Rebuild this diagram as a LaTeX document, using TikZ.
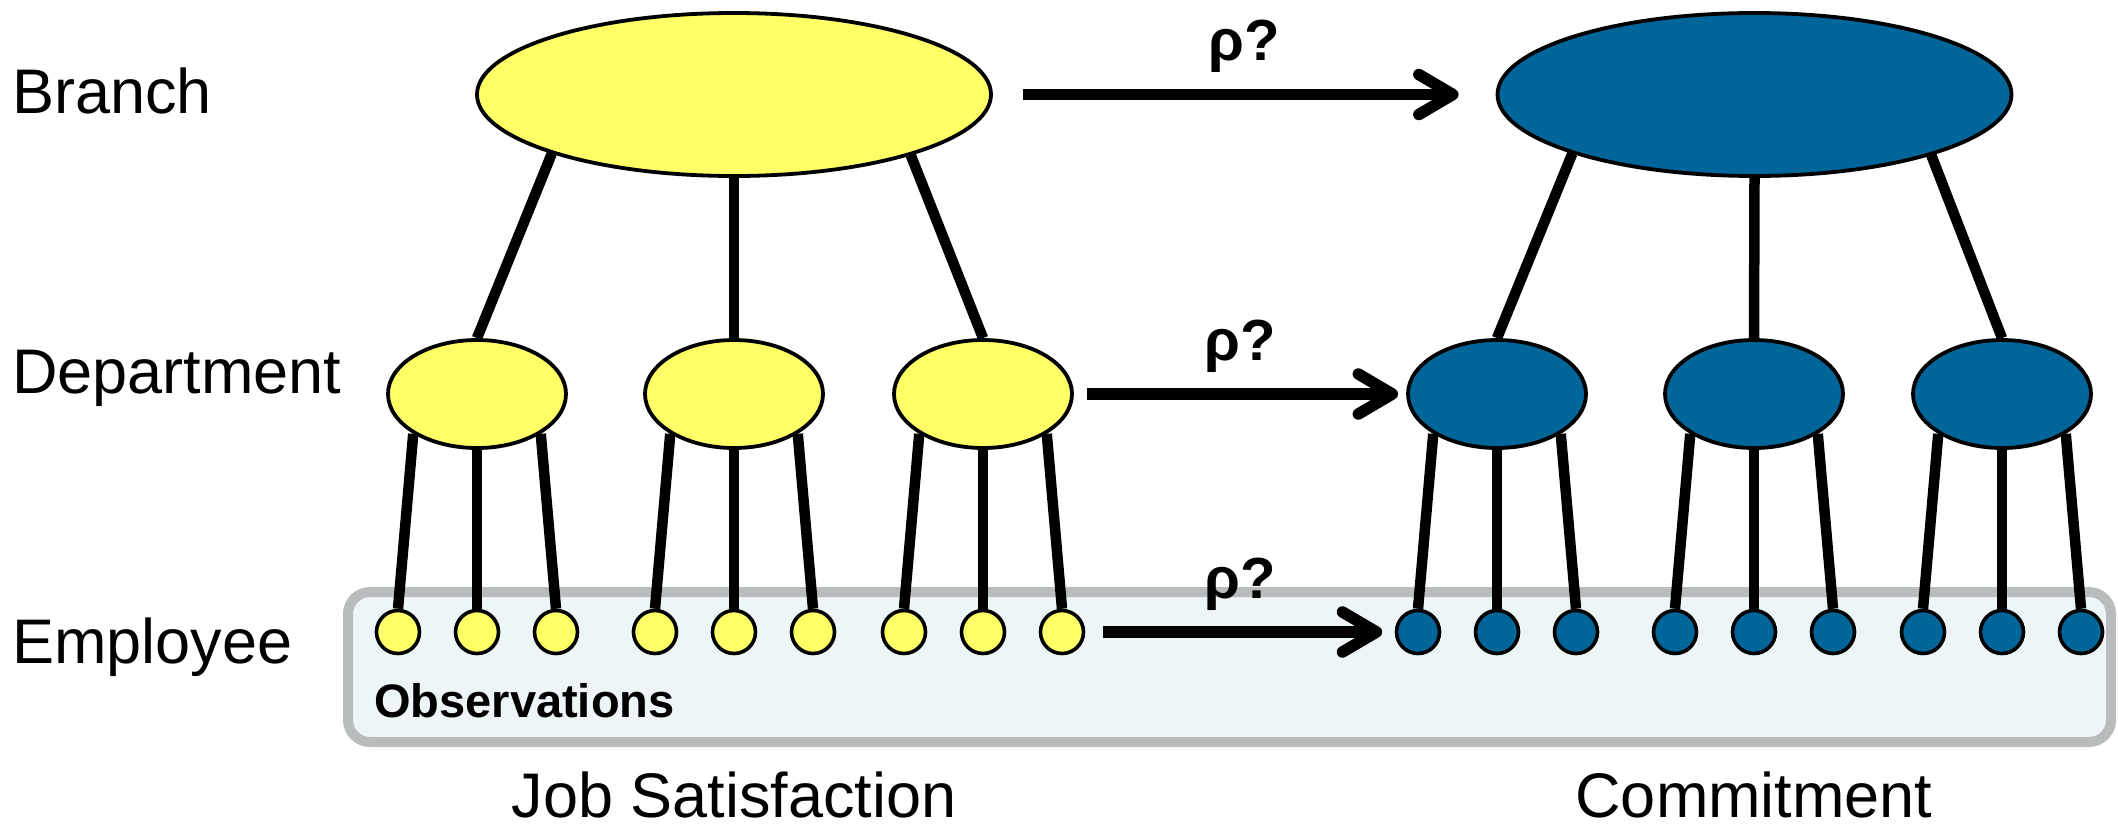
\documentclass[tikz,border=0pt]{standalone}
\usepackage{fontspec}
\setmainfont{Liberation Sans}
\usetikzlibrary{shapes.geometric,arrows.meta}
\definecolor{jsyellow}{RGB}{255,255,102}
\definecolor{cmblue}{RGB}{0,102,153}
\definecolor{obsfill}{RGB}{237,245,247}
\definecolor{obsedge}{RGB}{184,188,189}
\pgfdeclarelayer{bg}
\pgfsetlayers{bg,main}
\begin{document}
\begin{tikzpicture}[x=1pt,y=-1pt,
  bignode/.style={ellipse,draw=black,line width=3.8pt,minimum width=514pt,minimum height=163pt,inner sep=0pt},
  midnode/.style={ellipse,draw=black,line width=3.8pt,minimum width=178pt,minimum height=108pt,inner sep=0pt},
  obsnode/.style={circle,draw=black,line width=3.6pt,minimum size=43pt,inner sep=0pt},
  obsbox/.style={rectangle,rounded corners=22pt,draw=obsedge,fill=obsfill,line width=10pt,
    minimum width=1763pt,minimum height=150pt,inner sep=0pt},
  link/.style={line width=10.5pt},
  corr/.style={line width=11.5pt,-{Straight Barb[length=34pt,width=40pt,round]}},
  rholab/.style={font=\bfseries\fontsize{58}{58}\selectfont,anchor=base,inner sep=0pt,yshift=34pt},
  lvl/.style={font=\fontsize{63}{63}\selectfont,anchor=base west,inner sep=0pt},
  varlab/.style={font=\fontsize{63}{63}\selectfont,anchor=base,inner sep=0pt}]
\useasboundingbox (0,0) rectangle (2118,825);

% level labels
\node[lvl] (lbranch) at (12,113) {Branch};
\node[lvl] (ldept) at (12,393) {Department};
\node[lvl] (lemp) at (12,663) {Employee};

% branch level
\node[bignode,fill=jsyellow] (Y) at (734,94.5) {};
\node[bignode,fill=cmblue] (B) at (1754.5,94.5) {};

% departments and their employees
\foreach \s/\c/\xa/\xb/\xc in {Y/jsyellow/477/734/983, B/cmblue/1497/1754/2002} {
  \foreach \x [count=\i] in {\xa,\xb,\xc} {
    \node[midnode,fill=\c] (\s d\i) at (\x,394) {};
    \foreach \o [count=\j] in {-79,0,79}
      \node[obsnode,fill=\c] (\s e\i\j) at (\x+\o,632) {};
  }
}

% observation panel and tree links underneath the nodes
\begin{pgfonlayer}{bg}
  \node[obsbox] (obs) at (1229.5,667) {};
  \foreach \s in {Y,B} {
    \draw[link] (\s.198.6) -- (\s d1.north);
    \draw[link] (\s.south) -- (\s d2.north);
    \draw[link] (\s.341.4) -- (\s d3.north);
    \foreach \i in {1,2,3} {
      \draw[link] (\s d\i.212) -- (\s e\i1.north);
      \draw[link] (\s d\i.south) -- (\s e\i2.north);
      \draw[link] (\s d\i.328) -- (\s e\i3.north);
    }
  }
\end{pgfonlayer}

\node[font=\bfseries\fontsize{47}{47}\selectfont,anchor=base west,inner sep=0pt] (obslab) at (374,717) {Observations};

% correlation arrows between the two variables
\draw[corr,shorten <=30pt,shorten >=37pt] (Y.east) -- (B.west) node[midway,rholab] (r1) {ρ?};
\draw[corr,shorten <=13pt,shorten >=8pt] (Yd3.east) -- (Bd1.west) node[midway,rholab] (r2) {ρ?};
\draw[corr,shorten <=17.5pt,shorten >=12.5pt] (Ye33.east) -- (Be11.west) node[midway,rholab] (r3) {ρ?};

% variable names
\node[varlab] (vjs) at (734,817) {Job Satisfaction};
\node[varlab] (vcm) at (1754,817) {Commitment};
\end{tikzpicture}
\end{document}
